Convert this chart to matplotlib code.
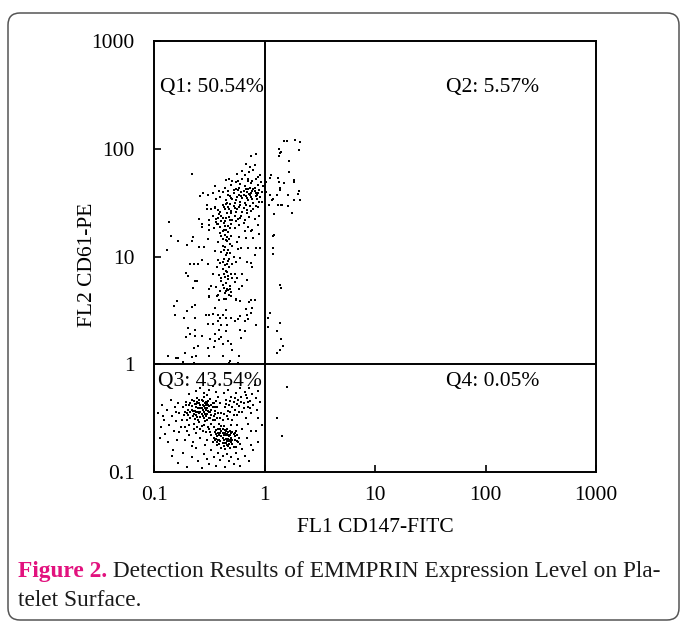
import numpy as np
import matplotlib
matplotlib.use("Agg")
import matplotlib.pyplot as plt
from matplotlib.patches import FancyBboxPatch

plt.rcParams['font.family'] = ['Liberation Serif', 'DejaVu Serif']

# ---- data: events as (log10 FL1 CD147-FITC, log10 FL2 CD61-PE) ----
q1_events = [
    (-0.08,1.95),(-0.12,1.93),(-0.17,1.86),(-0.09,1.85),(-0.13,1.83),(-0.20,1.79),(-0.25,1.77),(-0.66,1.77),
    (-0.04,1.76),(-0.32,1.72),(-0.35,1.71),(-0.29,1.70),(-0.24,1.70),(-0.20,1.72),(-0.15,1.72),(-0.11,1.70),
    (-0.08,1.72),(-0.45,1.65),(-0.41,1.61),(-0.56,1.59),(-0.58,1.56),(-0.51,1.57),(-0.47,1.59),(-0.52,1.48),
    (-0.52,1.44),(-0.45,1.45),(-0.59,1.35),(-0.57,1.30),(-0.86,1.32),
    (-0.30,1.66),(-0.22,1.67),(-0.18,1.65),(-0.12,1.68),(-0.06,1.66),(-0.03,1.69),(-0.26,1.69),(-0.15,1.70),
    (-0.09,1.64),(-0.36,1.64),(-0.01,1.65),
    (-0.33,1.61),(-0.28,1.59),(-0.24,1.62),(-0.21,1.60),(-0.17,1.63),(-0.14,1.58),(-0.11,1.61),(-0.08,1.59),
    (-0.05,1.62),(-0.02,1.60),(-0.19,1.57),(-0.26,1.63),(-0.13,1.64),(-0.07,1.57),(-0.38,1.60),(-0.16,1.60),
    (-0.10,1.63),
    (-0.40,1.55),(-0.35,1.52),(-0.31,1.56),(-0.29,1.53),(-0.25,1.55),(-0.22,1.51),(-0.20,1.54),(-0.17,1.56),
    (-0.15,1.52),(-0.12,1.55),(-0.10,1.50),(-0.07,1.53),(-0.04,1.55),(-0.27,1.50),(-0.33,1.57),(-0.18,1.50),
    (-0.13,1.57),(-0.23,1.57),(-0.44,1.53),(-0.02,1.51),
    (-0.45,1.46),(-0.42,1.43),(-0.38,1.48),(-0.36,1.44),(-0.33,1.46),(-0.30,1.42),(-0.28,1.47),(-0.25,1.44),
    (-0.22,1.48),(-0.19,1.45),(-0.16,1.43),(-0.13,1.47),(-0.10,1.44),(-0.06,1.46),(-0.31,1.49),(-0.40,1.41),
    (-0.35,1.49),(-0.20,1.41),(-0.48,1.44),(-0.26,1.41),
    (-0.47,1.38),(-0.44,1.35),(-0.41,1.39),(-0.38,1.36),(-0.36,1.33),(-0.34,1.40),(-0.32,1.37),(-0.29,1.34),
    (-0.27,1.38),(-0.24,1.35),(-0.21,1.38),(-0.18,1.34),(-0.14,1.37),(-0.09,1.35),(-0.05,1.38),(-0.50,1.34),
    (-0.39,1.33),(-0.30,1.40),(-0.42,1.36),(-0.16,1.40),
    (-0.50,1.29),(-0.46,1.26),(-0.43,1.30),(-0.40,1.27),(-0.37,1.31),(-0.35,1.25),(-0.33,1.28),(-0.30,1.30),
    (-0.27,1.26),(-0.23,1.29),(-0.19,1.31),(-0.15,1.27),(-0.11,1.25),(-0.38,1.24),(-0.44,1.32),(-0.06,1.29),
    (-0.28,1.62),(-0.23,1.64),(-0.19,1.61),(-0.15,1.63),(-0.12,1.59),(-0.09,1.61),(-0.06,1.59),(-0.21,1.56),
    (-0.16,1.54),(-0.11,1.53),(-0.08,1.56),(-0.05,1.51),(-0.26,1.52),(-0.30,1.54),(-0.34,1.50),(-0.37,1.46),
    (-0.32,1.44),(-0.27,1.45),(-0.23,1.46),(-0.17,1.48),(-0.12,1.42),(-0.08,1.47),(-0.39,1.38),(-0.35,1.36),
    (-0.31,1.34),(-0.26,1.33),(-0.22,1.36),(-0.42,1.30),(-0.36,1.28),(-0.31,1.26),
    (-0.10,1.80),(-0.18,1.76),(-0.06,1.74),(-0.14,1.78),
    (-0.85,1.19),(-0.78,1.14),(-0.88,1.06),(-0.70,1.11),(-0.66,1.14),(-0.65,1.18),(-0.59,1.09),(-0.55,1.09),
    (-0.57,1.27),(-0.50,1.25),(-0.51,1.16),(-0.64,0.93),(-0.67,0.93),(-0.60,0.93),(-0.57,0.97),(-0.51,0.93),
    (-0.71,0.85),(-0.69,0.82),(-0.63,0.77),(-0.61,0.77),(-0.65,0.71),(-0.50,0.70),(-0.48,0.73),(-0.47,0.84),
    (-0.50,0.62),(-0.42,0.64),(-0.35,0.61),(-0.30,0.63),(-0.26,0.61),(-0.23,0.70),(-0.20,0.73),(-0.16,0.78),
    (-0.20,0.84),(-0.27,0.84),(-0.29,0.80),(-0.25,0.80),(-0.16,0.95),(-0.12,0.94),(-0.11,0.90),(-0.17,1.17),
    (-0.10,1.17),(-0.08,1.08),(-0.04,1.08),(-0.15,1.08),(-0.21,1.08),(-0.23,1.18),(-0.18,1.24),(-0.12,1.24),
    (-0.05,1.21),(-0.09,1.01),(-0.22,0.99),(-0.24,1.07),
    (-0.40,1.22),(-0.36,1.20),(-0.33,1.23),(-0.30,1.19),(-0.38,1.16),(-0.34,1.14),(-0.31,1.12),(-0.42,1.13),
    (-0.36,1.09),(-0.33,1.06),(-0.29,1.10),(-0.39,1.04),(-0.35,1.01),(-0.31,1.03),(-0.28,1.00),(-0.37,0.98),
    (-0.33,0.96),(-0.40,0.94),(-0.36,0.92),(-0.32,0.90),(-0.29,0.93),(-0.38,0.88),(-0.34,0.86),(-0.30,0.84),
    (-0.41,0.83),(-0.36,0.81),(-0.33,0.79),(-0.39,0.77),(-0.35,0.75),(-0.31,0.73),(-0.37,0.71),(-0.33,0.69),
    (-0.40,0.68),(-0.36,0.66),(-0.32,0.64),(-0.44,0.72),(-0.27,0.76),(-0.43,0.90),(-0.26,0.95),(-0.45,1.05),
    (-0.25,1.13),(-0.37,1.25),(-0.34,1.18),(-0.38,1.10),(-0.32,0.98),(-0.35,0.87),(-0.39,0.80),(-0.34,0.70),
    (-0.30,0.67),(-0.42,0.97),
    (-0.39,1.19),(-0.35,1.15),(-0.32,1.16),(-0.37,1.06),(-0.34,1.03),(-0.38,0.95),(-0.34,0.93),(-0.37,0.84),
    (-0.33,0.82),(-0.38,0.74),(-0.35,0.68),(-0.31,0.70),
    (-0.79,0.59),(-0.82,0.54),(-0.81,0.46),(-0.70,0.49),(-0.66,0.53),(-0.63,0.55),(-0.73,0.43),(-0.63,0.43),
    (-0.69,0.34),(-0.67,0.28),(-0.71,0.25),(-0.63,0.32),(-0.63,0.26),(-0.57,0.26),(-0.60,0.17),(-0.64,0.15),
    (-0.62,0.08),(-0.66,0.07),(-0.72,0.10),(-0.87,0.08),(-0.80,0.06),(-0.78,0.06),(-0.74,0.02),(-0.64,0.01),
    (-0.50,0.08),(-0.51,0.15),(-0.46,0.16),(-0.45,0.22),(-0.49,0.23),(-0.41,0.23),(-0.39,0.25),(-0.38,0.19),
    (-0.38,0.08),(-0.31,0.03),(-0.29,0.13),(-0.30,0.19),(-0.33,0.22),(-0.45,0.28),(-0.41,0.32),(-0.35,0.31),
    (-0.34,0.36),(-0.27,0.40),(-0.30,0.43),(-0.24,0.42),(-0.22,0.45),(-0.18,0.40),(-0.15,0.42),(-0.16,0.46),
    (-0.12,0.48),(-0.17,0.51),(-0.11,0.52),(-0.08,0.36),(-0.22,0.32),(-0.18,0.31),(-0.21,0.24),(-0.23,0.08),
    (-0.24,0.01),(-0.32,0.01),(-0.53,0.46),(-0.50,0.46),(-0.47,0.47),(-0.42,0.46),(-0.38,0.46),(-0.35,0.50),
    (-0.35,0.43),(-0.40,0.43),(-0.45,0.52),(-0.50,0.63),(-0.41,0.60),(-0.37,0.61),(-0.30,0.63),(-0.26,0.60),
    (-0.22,0.59),(-0.12,0.60),(-0.09,0.60),(-0.14,0.58),(-0.43,0.63),(-0.51,0.37),(-0.47,0.37),(-0.42,0.40),
    (-0.39,0.36),
]

q2_events = [
    (0.18,2.07),(0.20,2.07),(0.28,2.08),(0.32,2.06),(0.13,2.00),(0.15,1.97),(0.14,1.96),(0.13,1.93),
    (0.31,1.99),(0.22,1.89),(0.22,1.78),(0.06,1.76),(0.05,1.73),(0.12,1.73),(0.01,1.69),(0.13,1.69),
    (0.18,1.68),(0.27,1.71),(0.27,1.69),(0.14,1.64),(0.14,1.62),(0.31,1.61),(0.30,1.58),(0.01,1.60),
    (0.05,1.57),(0.11,1.57),(0.21,1.57),(0.08,1.53),(0.07,1.52),(0.27,1.52),(0.32,1.52),(0.04,1.48),
    (0.12,1.48),(0.15,1.48),(0.16,1.48),(0.21,1.47),(0.09,1.39),(0.25,1.40),(0.09,1.20),(0.08,1.19),
    (0.08,1.08),(0.08,1.02),(0.14,0.74),(0.15,0.71),(0.05,0.48),(0.03,0.43),(0.03,0.35),(0.14,0.38),
    (0.11,0.31),(0.15,0.23),(0.17,0.17),(0.14,0.13),(0.11,0.10),
]

q3_events = [
    (-0.74,-0.40),(-0.71,-0.35),(-0.70,-0.45),(-0.68,-0.38),(-0.67,-0.50),(-0.66,-0.33),(-0.65,-0.43),(-0.64,-0.55),
    (-0.63,-0.37),(-0.62,-0.47),(-0.61,-0.31),(-0.60,-0.41),(-0.60,-0.52),(-0.59,-0.36),(-0.58,-0.44),(-0.57,-0.57),
    (-0.57,-0.33),(-0.56,-0.48),(-0.55,-0.39),(-0.55,-0.30),(-0.54,-0.53),(-0.53,-0.42),(-0.53,-0.35),(-0.52,-0.46),
    (-0.51,-0.58),(-0.51,-0.38),(-0.50,-0.50),(-0.49,-0.32),(-0.49,-0.44),(-0.48,-0.55),(-0.47,-0.40),(-0.47,-0.36),
    (-0.46,-0.48),(-0.45,-0.43),(-0.45,-0.52),(-0.44,-0.34),(-0.72,-0.44),(-0.69,-0.42),(-0.66,-0.39),(-0.64,-0.46),
    (-0.62,-0.40),(-0.61,-0.35),(-0.59,-0.45),(-0.58,-0.38),(-0.56,-0.42),(-0.54,-0.46),(-0.53,-0.38),(-0.52,-0.41),
    (-0.50,-0.44),(-0.48,-0.38),(-0.63,-0.51),(-0.58,-0.49),(-0.55,-0.44),(-0.51,-0.34),(-0.67,-0.44),(-0.60,-0.36),
    (-0.57,-0.41),(-0.54,-0.36),(-0.62,-0.44),(-0.65,-0.48),(-0.59,-0.54),(-0.52,-0.52),(-0.70,-0.52),(-0.73,-0.47),
    (-0.56,-0.34),(-0.48,-0.47),(-0.46,-0.40),(-0.61,-0.58),(-0.68,-0.56),(-0.55,-0.56),
    (-0.71,-0.38),(-0.69,-0.47),(-0.67,-0.36),(-0.66,-0.42),(-0.64,-0.34),(-0.63,-0.43),(-0.62,-0.37),(-0.61,-0.49),
    (-0.60,-0.44),(-0.59,-0.33),(-0.58,-0.41),(-0.57,-0.46),(-0.56,-0.38),(-0.55,-0.50),(-0.54,-0.41),(-0.53,-0.48),
    (-0.52,-0.36),(-0.51,-0.43),(-0.50,-0.39),(-0.49,-0.50),(-0.48,-0.42),(-0.47,-0.52),(-0.46,-0.36),(-0.45,-0.46),
    (-0.44,-0.40),(-0.43,-0.50),(-0.42,-0.45),(-0.41,-0.55),(-0.40,-0.50),(-0.39,-0.57),
    (-0.50,-0.60),(-0.48,-0.66),(-0.47,-0.72),(-0.46,-0.58),(-0.45,-0.63),(-0.44,-0.69),(-0.43,-0.75),(-0.42,-0.60),
    (-0.41,-0.66),(-0.40,-0.71),(-0.39,-0.78),(-0.39,-0.62),(-0.38,-0.68),(-0.37,-0.57),(-0.36,-0.73),(-0.36,-0.64),
    (-0.35,-0.69),(-0.34,-0.60),(-0.33,-0.76),(-0.33,-0.66),(-0.32,-0.71),(-0.31,-0.62),(-0.30,-0.68),(-0.29,-0.74),
    (-0.28,-0.65),(-0.27,-0.70),(-0.26,-0.77),(-0.25,-0.66),(-0.24,-0.72),(-0.23,-0.68),(-0.42,-0.70),(-0.40,-0.64),
    (-0.38,-0.73),(-0.37,-0.66),(-0.35,-0.62),(-0.34,-0.71),(-0.32,-0.67),(-0.30,-0.72),(-0.29,-0.63),(-0.27,-0.67),
    (-0.44,-0.65),(-0.41,-0.74),(-0.36,-0.79),(-0.31,-0.78),(-0.46,-0.68),(-0.49,-0.63),(-0.38,-0.60),(-0.34,-0.65),
    (-0.26,-0.62),(-0.22,-0.74),
    (-0.45,-0.70),(-0.44,-0.61),(-0.43,-0.67),(-0.42,-0.64),(-0.41,-0.70),(-0.40,-0.60),(-0.39,-0.67),(-0.38,-0.64),
    (-0.37,-0.70),(-0.36,-0.61),(-0.35,-0.66),(-0.34,-0.75),(-0.33,-0.63),(-0.32,-0.74),(-0.31,-0.66),(-0.30,-0.64),
    (-0.29,-0.70),(-0.28,-0.77),(-0.27,-0.64),(-0.25,-0.71),(-0.37,-0.76),(-0.35,-0.73),(-0.33,-0.69),(-0.31,-0.70),
    (-0.43,-0.72),
    (-0.42,-0.30),(-0.40,-0.36),(-0.39,-0.45),(-0.38,-0.52),(-0.37,-0.27),(-0.36,-0.40),(-0.35,-0.33),(-0.34,-0.48),
    (-0.33,-0.24),(-0.32,-0.38),(-0.31,-0.44),(-0.30,-0.30),(-0.29,-0.52),(-0.28,-0.35),(-0.27,-0.42),(-0.26,-0.27),
    (-0.25,-0.47),(-0.24,-0.33),(-0.23,-0.39),(-0.22,-0.22),(-0.21,-0.30),(-0.20,-0.44),(-0.19,-0.36),(-0.18,-0.26),
    (-0.17,-0.50),(-0.16,-0.31),(-0.15,-0.40),(-0.14,-0.22),(-0.13,-0.34),(-0.12,-0.45),(-0.11,-0.28),(-0.10,-0.38),
    (-0.09,-0.19),(-0.08,-0.31),(-0.07,-0.42),(-0.06,-0.25),(-0.04,-0.35),(-0.02,-0.56),(-0.15,-0.55),(-0.25,-0.56),
    (-0.30,-0.56),(-0.20,-0.60),(-0.12,-0.62),(-0.06,-0.50),(-0.43,-0.40),
    (-0.35,-0.37),(-0.33,-0.43),(-0.31,-0.34),(-0.29,-0.40),(-0.27,-0.31),(-0.25,-0.37),(-0.23,-0.44),(-0.21,-0.35),
    (-0.19,-0.41),(-0.17,-0.29),(-0.15,-0.35),(-0.13,-0.41),(-0.37,-0.46),(-0.33,-0.51),(-0.28,-0.47),
    (-0.62,-0.25),(-0.58,-0.22),(-0.55,-0.27),(-0.50,-0.24),(-0.47,-0.20),(-0.44,-0.26),(-0.68,-0.28),(-0.52,-0.29),
    (-0.96,-0.45),(-0.94,-0.58),(-0.93,-0.38),(-0.91,-0.52),(-0.90,-0.65),(-0.88,-0.42),(-0.86,-0.56),(-0.85,-0.33),
    (-0.84,-0.48),(-0.82,-0.62),(-0.81,-0.40),(-0.80,-0.53),(-0.79,-0.70),(-0.78,-0.36),(-0.77,-0.45),(-0.76,-0.58),
    (-0.92,-0.48),(-0.87,-0.72),(-0.83,-0.80),(-0.95,-0.68),(-0.80,-0.44),(-0.77,-0.63),
    (-0.72,-0.58),(-0.68,-0.66),(-0.64,-0.60),(-0.58,-0.60),(-0.53,-0.63),(-0.66,-0.76),(-0.72,-0.70),(-0.75,-0.52),
    (-0.84,-0.85),(-0.78,-0.92),(-0.74,-0.82),(-0.70,-0.95),(-0.66,-0.86),(-0.62,-0.78),(-0.60,-0.90),(-0.57,-0.96),
    (-0.55,-0.83),(-0.52,-0.88),(-0.50,-0.93),(-0.48,-0.80),(-0.46,-0.86),(-0.44,-0.94),(-0.42,-0.82),(-0.40,-0.89),
    (-0.38,-0.85),(-0.36,-0.95),(-0.34,-0.83),(-0.32,-0.90),(-0.30,-0.86),(-0.28,-0.93),(-0.26,-0.82),(-0.24,-0.88),
    (-0.22,-0.94),(-0.20,-0.79),(-0.18,-0.85),(-0.14,-0.90),(-0.10,-0.80),(-0.06,-0.72),(-0.65,-0.72),(-0.58,-0.68),
    (-0.54,-0.75),(-0.62,-0.64),(-0.70,-0.62),(-0.16,-0.68),(-0.12,-0.75),(-0.08,-0.62),(-0.56,-0.62),(-0.52,-0.70),
]

q4_events = [(0.20,-0.21),(0.11,-0.50),(0.16,-0.67)]

quadrant_labels = ["Q1: 50.54%", "Q2: 5.57%", "Q3: 43.54%", "Q4: 0.05%"]
tick_values = [0.1, 1, 10, 100, 1000]
tick_labels = ["0.1", "1", "10", "100", "1000"]
x_title = "FL1 CD147-FITC"
y_title = "FL2 CD61-PE"
caption_bold = "Figure 2."
caption_rest = " Detection Results of EMMPRIN Expression Level on Pla-"
caption_line2 = "telet Surface."

# ---- figure ----
W, H = 680, 623
fig = plt.figure(figsize=(W / 100, H / 100), dpi=100)
ax = fig.add_axes([154 / W, 1 - 472 / H, 442 / W, 431 / H])

all_events = np.array(q1_events + q2_events + q3_events + q4_events)
ax.scatter(10 ** all_events[:, 0], 10 ** all_events[:, 1], s=4, c='black',
           marker='s', linewidths=0, zorder=3)

ax.set_xscale('log')
ax.set_yscale('log')
ax.set_xlim(0.1, 1000)
ax.set_ylim(0.1, 1000)
ax.set_xticks(tick_values)
ax.set_xticklabels(tick_labels)
ax.set_yticks(tick_values)
ax.set_yticklabels(tick_labels)
ax.minorticks_off()
ax.tick_params(axis='both', direction='in', length=5, width=1.2, labelsize=15.5,
               colors='black')
ax.tick_params(axis='x', pad=10)
ax.tick_params(axis='y', pad=14)
for sp in ax.spines.values():
    sp.set_linewidth(1.4)
    sp.set_color('black')

ax.axvline(1, color='black', lw=1.4, zorder=2)
ax.axhline(1, color='black', lw=1.4, zorder=2)

qfs = 15.5
ax.text(0.014, 0.893, quadrant_labels[0], transform=ax.transAxes, fontsize=qfs, va='center', ha='left')
ax.text(0.661, 0.893, quadrant_labels[1], transform=ax.transAxes, fontsize=qfs, va='center', ha='left')
ax.text(0.009, 0.211, quadrant_labels[2], transform=ax.transAxes, fontsize=qfs, va='center', ha='left')
ax.text(0.661, 0.211, quadrant_labels[3], transform=ax.transAxes, fontsize=qfs, va='center', ha='left')

ax.set_xlabel(x_title, fontsize=15.5, va='center')
ax.xaxis.set_label_coords(0.5, (472 - 527) / 431)
ax.set_ylabel(y_title, fontsize=15.5, va='center')
ax.yaxis.set_label_coords((88 - 154) / 442, (472 - 265) / 431)

# caption
cfs = 16.8
t1 = fig.text(18 / W, 1 - 572 / H, caption_bold, fontsize=cfs, fontweight='bold',
              color='#E2127E', va='center', ha='left')
fig.canvas.draw()
bb = t1.get_window_extent()
fig.text(bb.x1 / W, 1 - 572 / H, caption_rest, fontsize=cfs, color='#1a1a1a',
         va='center', ha='left')
fig.text(18 / W, 1 - 601 / H, caption_line2, fontsize=cfs, color='#1a1a1a',
         va='center', ha='left')

# rounded frame
frame = FancyBboxPatch((8, 3), 671, 607, boxstyle="round,pad=0,rounding_size=12",
                       transform=None, fill=False, edgecolor='#555555', linewidth=1.1)
fig.patches.append(frame)

fig.savefig("out.png", dpi=100)
